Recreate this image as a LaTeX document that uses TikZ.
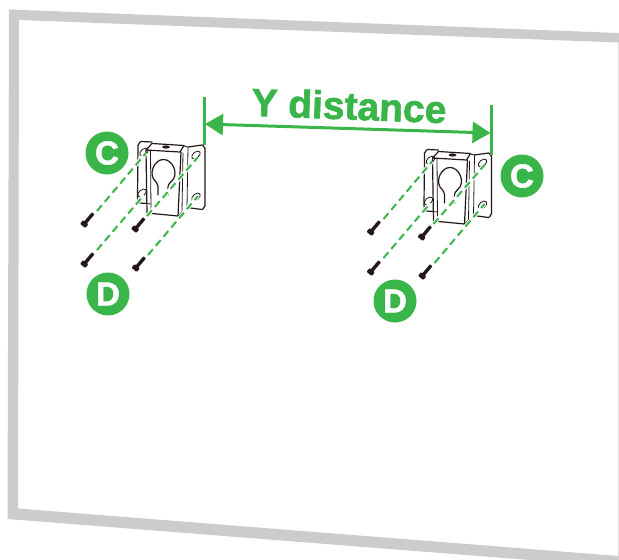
\documentclass[tikz,border=0pt]{standalone}
\usepackage{fontspec}
\setmainfont{Liberation Sans}
\newfontfamily\lab[UprightFont=* Bold,FakeBold=1.6]{Liberation Sans}
\usetikzlibrary{arrows.meta}
\definecolor{mgreen}{HTML}{39B54A}
\definecolor{wallgrey}{HTML}{CCCCCC}
\definecolor{ink}{HTML}{231815}
\tikzset{
  part/.style={draw=ink,line width=1.2pt,line join=round,line cap=round},
  fineline/.style={draw=ink,line width=0.8pt,line cap=round},
  guide/.style={draw=mgreen,line width=2pt,dash pattern=on 7.5pt off 4.5pt},
  halo/.style={draw=white,line width=4pt},
  badge/.style={circle,fill=mgreen,minimum size=43pt,inner sep=0pt,text=white,font=\lab\fontsize{33}{33}\selectfont},
  dimline/.style={draw=mgreen,line width=3pt},
  pics/screw/.style={code={
    \fill[ink,rotate=#1,rounded corners=1pt] (-4.5,-3.4) rectangle (0.5,3.4);
    \fill[ink,rotate=#1,rounded corners=0.5pt] (-1,-1.7) rectangle (12,1.7);
  }},
  pics/bracket/.style={code={
    % mounting plate
    \draw[part] (152,142) -- (141,141.5) to[out=180,in=-90] (138,145) -- (137.5,198)
       to[out=90,in=180] (140,203) -- (147,203.5);
    \draw[part] (188,147) -- (202,145) to[out=0,in=-90] (205,148) -- (205,206)
       to[out=90,in=0] (202,209.5) -- (187,207.5);
    % channel
    \draw[part] (146,150) -- (152,143.5) -- (184,145.5) -- (180,152) -- cycle;
    \draw[part] (146,150) -- (147,213) -- (178,216) -- (181,152);
    \draw[fineline] (150.5,151) -- (151,211);
    \draw[fineline] (183,153) -- (182,212) -- (178,216);
    \draw[fineline] (184,146) -- (188,147) -- (187,208);
    \draw[fineline] (147,203.5) -- (151,204);
    \fill[ink] (166,147) ellipse (4pt and 1.6pt);
    % keyhole
    \draw[part] (158,195) -- (158,186) to[out=90,in=-60] (153.5,179) to[out=120,in=180] (163.5,159.5)
       to[out=0,in=60] (173.5,179) to[out=-120,in=90] (168,187) -- (168,195);
    % slots
    \draw[fineline,rotate around={40:(144,152)}] (144,152) ellipse (5pt and 3pt);
    \draw[fineline,rotate around={40:(142,193)}] (142,193) ellipse (5pt and 3pt);
    \draw[fineline,rotate around={40:(196,155)}] (196,155) ellipse (5pt and 3pt);
    \draw[fineline,rotate around={40:(196,197)}] (196,197) ellipse (5pt and 3pt);
    % screw positions
    \coordinate (h1) at (146,153);
    \coordinate (h2) at (144,195);
    \coordinate (h3) at (198,157);
    \coordinate (h4) at (198,196);
    \coordinate (t1) at (97,211);
    \coordinate (t2) at (97,250);
    \coordinate (t3) at (147,216);
    \coordinate (t4) at (148,255);
    \draw[halo] (t1) -- (h1) (t2) -- (h2) (t3) -- (h3) (t4) -- (h4);
    \draw[guide] (t1) -- (h1);
    \draw[guide] (t2) -- (h2);
    \draw[guide] (t3) -- (h3);
    \draw[guide] (t4) -- (h4);
    \path (85.5,222.5) pic {screw=50};
    \path (85.5,262.5) pic {screw=50};
    \path (136.5,227.5) pic {screw=50};
    \path (137,266.5) pic {screw=50};
  }}
}
\begin{document}
\begin{tikzpicture}[x=1pt,y=-1pt]
\useasboundingbox (0,0) rectangle (619,560);
\begin{scope}
  \clip (0,0) rectangle (619,560);
  \fill[wallgrey,even odd rule]
    (9,9.5) -- (619,33) -- (619,567) -- (7.5,519) -- cycle
    (19,20) -- (618.5,42.5) -- (618.5,556) -- (18,508.5) -- cycle;
  \fill[white] (618,43) rectangle (619,556);
  \draw[wallgrey!60,line width=0.8pt] (618.3,43) -- (618.3,556);
\end{scope}

\path (0,0) pic (lb) {bracket};
\path (286.5,8) pic (rb) {bracket};

\coordinate (ytl) at (204.5,97);
\coordinate (ybl) at (204.5,145);
\coordinate (ytr) at (491,105);
\coordinate (ybr) at (491,155);
\coordinate (al) at (204.5,124);
\coordinate (ar) at (491,133);
\draw[dimline] (ytl) -- (ybl);
\draw[dimline] (ytr) -- (ybr);
\draw[dimline,{Triangle[length=18pt,width=21pt]}-{Triangle[length=18pt,width=21pt]},shorten <=0.5pt,shorten >=0.5pt] (al) -- (ar);
\node[text=mgreen,font=\lab\fontsize{39}{39}\selectfont,anchor=base,rotate=-2.2,inner sep=0pt] (ylabel) at (348.5,119.5) {Y distance};

\node[badge] (c1) at (107,153) {C};
\node[badge] (d1) at (108,294) {D};
\node[badge] (c2) at (522,176) {C};
\node[badge] (d2) at (395,301) {D};
\end{tikzpicture}
\end{document}
